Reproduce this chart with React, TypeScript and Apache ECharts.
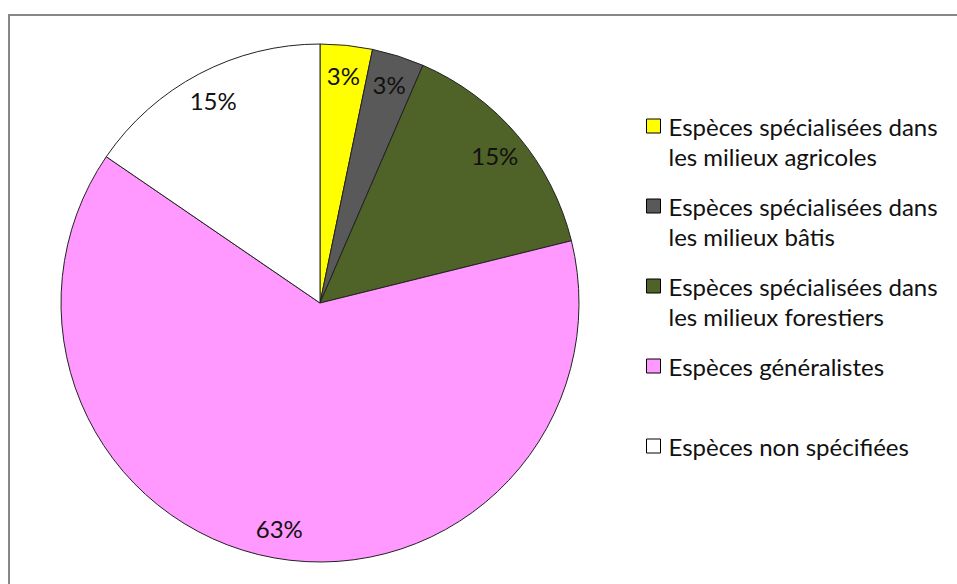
import React, { useEffect, useRef } from "react";
import * as echarts from "echarts";

const categories = [
  "Espèces spécialisées dans les milieux agricoles",
  "Espèces spécialisées dans les milieux bâtis",
  "Espèces spécialisées dans les milieux forestiers",
  "Espèces généralistes",
  "Espèces non spécifiées",
];
const legendLabels = [
  "Espèces spécialisées dans\nles milieux agricoles",
  "Espèces spécialisées dans\nles milieux bâtis",
  "Espèces spécialisées dans\nles milieux forestiers",
  "Espèces généralistes",
  "Espèces non spécifiées",
];
const speciesCounts = [4, 4, 18, 78, 19];
const sliceColors = ["#FFFF00", "#595959", "#4F6228", "#FF99FF", "#FFFFFF"];
const legendCenters = [126, 206, 286, 366, 446];

const FONT = "Lato";

export default function App() {
  const ref = useRef<HTMLDivElement>(null);
  useEffect(() => {
    if (!ref.current) return;
    const chart = echarts.init(ref.current, undefined, { renderer: "svg" });
    const data = categories.map((name, i) => ({
      name,
      value: speciesCounts[i],
      itemStyle: { color: sliceColors[i] },
    }));
    const legends = categories.map((name, i) => {
      const twoLines = legendLabels[i].includes("\n");
      return {
        data: [name],
        left: 646,
        top: legendCenters[i] - (twoLines ? 45 : 15),
        padding: 0,
        itemWidth: 14,
        itemHeight: 14,
        icon: "rect",
        selectedMode: false,
        itemStyle: { borderColor: "#000", borderWidth: 1 },
        formatter: () => (twoLines ? "\n" + legendLabels[i] : legendLabels[i]),
        textStyle: {
          fontFamily: FONT,
          fontSize: 24,
          color: "#111",
          lineHeight: 30,
          padding: [0, 0, 0, 3],
        },
      };
    });
    chart.setOption({
      animation: false,
      backgroundColor: "#fff",
      graphic: [
        {
          type: "rect",
          shape: { x: 9, y: 15, width: 1200, height: 1200 },
          style: { fill: "none", stroke: "#878787", lineWidth: 2 },
          silent: true,
        },
      ],
      legend: legends,
      series: [
        {
          type: "pie",
          center: [320, 303],
          radius: [0, 259],
          startAngle: 90,
          clockwise: true,
          label: { show: false },
          labelLine: { show: false },
          itemStyle: { borderColor: "#222", borderWidth: 1 },
          emphasis: { disabled: true },
          data,
        },
        {
          type: "pie",
          center: [320, 303],
          radius: [192, 260],
          startAngle: 90,
          clockwise: true,
          silent: true,
          itemStyle: { color: "transparent", borderWidth: 0 },
          label: {
            show: true,
            position: "inside",
            fontFamily: FONT,
            fontSize: 24,
            color: "#111",
            formatter: (p: any) => Math.round(p.percent) + "%",
          },
          labelLine: { show: false },
          emphasis: { disabled: true },
          data: categories.map((name, i) => ({
            name,
            value: speciesCounts[i],
            itemStyle: { color: "transparent" },
          })),
        },
      ],
    });
    return () => chart.dispose();
  }, []);
  return (
    <div
      ref={ref}
      style={{ position: "fixed", left: 0, top: 0, width: 957, height: 584 }}
    />
  );
}
